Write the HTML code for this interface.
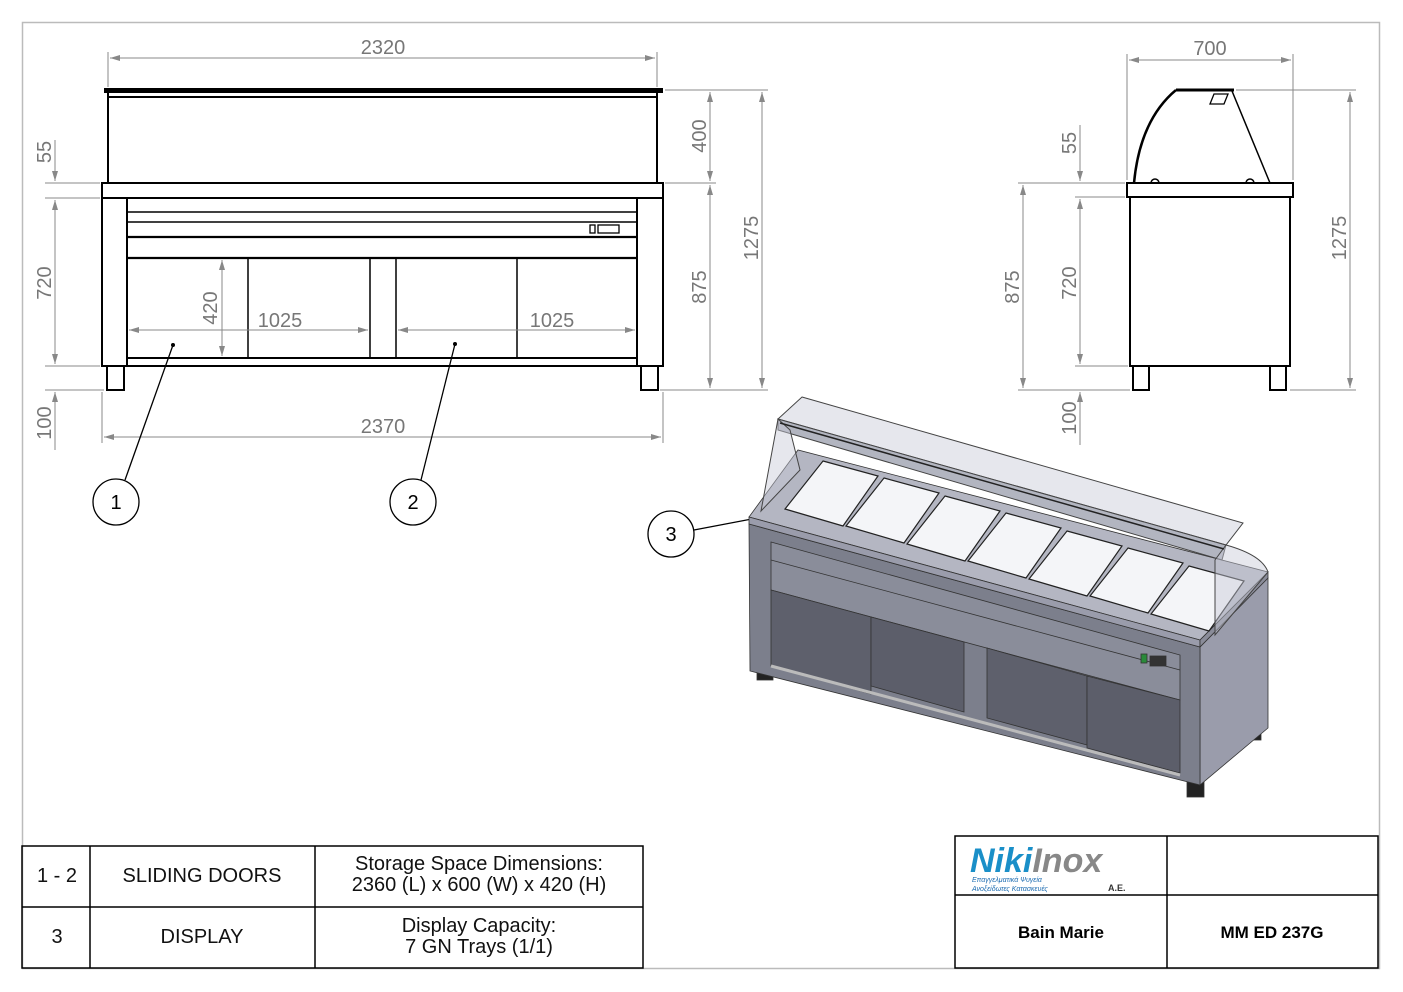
<!DOCTYPE html>
<html><head><meta charset="utf-8"><style>
html,body{margin:0;padding:0;background:#fff;}
svg{display:block;}
text{font-family:"Liberation Sans",sans-serif;}
</style></head><body>
<svg width="1403" height="992" viewBox="0 0 1403 992" xmlns="http://www.w3.org/2000/svg">
<defs>
<marker id="a" viewBox="0 0 10 6" refX="10" refY="3" markerWidth="10" markerHeight="6" orient="auto-start-reverse"><path d="M0,0 L10,3 L0,6 z" fill="#888"/></marker>
</defs>
<rect x="22.5" y="22.5" width="1357" height="946" fill="none" stroke="#bbb" stroke-width="1.5"/>

<!-- FRONT VIEW -->
<g stroke="#000" fill="none" stroke-width="2">
<rect x="105" y="89" width="557" height="3" fill="#000"/>
<line x1="108" y1="97" x2="657" y2="97"/>
<line x1="108" y1="92" x2="108" y2="183"/>
<line x1="657" y1="92" x2="657" y2="183"/>
<rect x="102" y="183" width="561" height="15"/>
<rect x="102" y="198" width="25" height="168"/>
<rect x="637" y="198" width="26" height="168"/>
<line x1="127" y1="212" x2="637" y2="212" stroke-width="1.5"/>
<line x1="127" y1="222" x2="637" y2="222" stroke-width="1.5"/>
<line x1="127" y1="237" x2="637" y2="237" stroke-width="2.2"/>
<line x1="127" y1="258" x2="637" y2="258" stroke-width="2.2"/>
<rect x="127" y="358" width="510" height="8"/>
<line x1="248" y1="258" x2="248" y2="358" stroke-width="1.5"/>
<line x1="370" y1="258" x2="370" y2="358" stroke-width="1.5"/>
<line x1="396" y1="258" x2="396" y2="358" stroke-width="1.5"/>
<line x1="517" y1="258" x2="517" y2="358" stroke-width="1.5"/>
<rect x="590" y="225" width="5" height="8" stroke-width="1.3"/>
<rect x="598" y="225" width="21" height="8" stroke-width="1.3"/>
<rect x="107" y="366" width="17" height="24"/>
<rect x="641" y="366" width="17" height="24"/>
</g>
<g stroke="#888" stroke-width="1" fill="none">
<line x1="108" y1="52" x2="108" y2="87"/><line x1="657" y1="52" x2="657" y2="87"/>
<line x1="110" y1="58" x2="655" y2="58" marker-start="url(#a)" marker-end="url(#a)"/>
<line x1="102" y1="392" x2="102" y2="443"/><line x1="663" y1="392" x2="663" y2="443"/>
<line x1="104" y1="437" x2="661" y2="437" marker-start="url(#a)" marker-end="url(#a)"/>
<line x1="665" y1="90" x2="768" y2="90"/><line x1="665" y1="183" x2="716" y2="183"/><line x1="660" y1="390" x2="768" y2="390"/>
<line x1="710" y1="92" x2="710" y2="181" marker-start="url(#a)" marker-end="url(#a)"/>
<line x1="710" y1="185" x2="710" y2="388" marker-start="url(#a)" marker-end="url(#a)"/>
<line x1="762" y1="92" x2="762" y2="388" marker-start="url(#a)" marker-end="url(#a)"/>
<line x1="45" y1="183" x2="100" y2="183"/><line x1="45" y1="198" x2="100" y2="198"/><line x1="45" y1="366" x2="100" y2="366"/><line x1="45" y1="390" x2="104" y2="390"/>
<line x1="55" y1="140" x2="55" y2="181" marker-end="url(#a)"/>
<line x1="55" y1="200" x2="55" y2="364" marker-start="url(#a)" marker-end="url(#a)"/>
<line x1="55" y1="392" x2="55" y2="450" marker-start="url(#a)"/>
<line x1="222" y1="260" x2="222" y2="356" marker-start="url(#a)" marker-end="url(#a)"/>
<line x1="129" y1="330" x2="368" y2="330" marker-start="url(#a)" marker-end="url(#a)"/>
<line x1="398" y1="330" x2="635" y2="330" marker-start="url(#a)" marker-end="url(#a)"/>
</g>
<g fill="#777" font-size="20">
<text x="383" y="54" text-anchor="middle">2320</text>
<text x="383" y="433" text-anchor="middle">2370</text>
<text x="280" y="327" text-anchor="middle">1025</text>
<text x="552" y="327" text-anchor="middle">1025</text>
<text transform="translate(217,308) rotate(-90)" text-anchor="middle">420</text>
<text transform="translate(706,136) rotate(-90)" text-anchor="middle">400</text>
<text transform="translate(706,287) rotate(-90)" text-anchor="middle">875</text>
<text transform="translate(758,238) rotate(-90)" text-anchor="middle">1275</text>
<text transform="translate(51,152) rotate(-90)" text-anchor="middle">55</text>
<text transform="translate(51,283) rotate(-90)" text-anchor="middle">720</text>
<text transform="translate(51,423) rotate(-90)" text-anchor="middle">100</text>
</g>
<g stroke="#000" stroke-width="1.3" fill="none">
<circle cx="116" cy="502" r="23"/><circle cx="413" cy="502" r="23"/><circle cx="671" cy="534" r="23"/>
<line x1="125" y1="480" x2="173" y2="345"/><line x1="421" y1="480" x2="455" y2="344"/><line x1="694" y1="530" x2="836" y2="503"/>
</g>
<circle cx="173" cy="345" r="2"/><circle cx="455" cy="344" r="2"/>
<g font-size="20" text-anchor="middle"><text x="116" y="509">1</text><text x="413" y="509">2</text><text x="671" y="541">3</text></g>

<!-- SIDE VIEW -->
<g stroke="#000" stroke-width="2" fill="none">
<rect x="1127" y="183" width="166" height="14"/>
<rect x="1130" y="197" width="160" height="169"/>
<rect x="1133" y="366" width="16" height="24"/>
<rect x="1270" y="366" width="16" height="24"/>
<path d="M1134,183 Q1140,120 1176,90" stroke-width="2.5"/>
<line x1="1176" y1="90" x2="1234" y2="90" stroke-width="3"/>
<line x1="1232" y1="91" x2="1270" y2="183" stroke-width="1.5"/>
<path d="M1214,94 L1228,94 L1224,104 L1210,104 z" stroke-width="1.3"/>
<path d="M1151,183 a4,4 0 0 1 8,0" stroke-width="1.5"/><path d="M1246,183 a4,4 0 0 1 8,0" stroke-width="1.5"/>
</g>
<g stroke="#888" stroke-width="1" fill="none">
<line x1="1127" y1="54" x2="1127" y2="180"/><line x1="1293" y1="54" x2="1293" y2="180"/>
<line x1="1129" y1="60" x2="1291" y2="60" marker-start="url(#a)" marker-end="url(#a)"/>
<line x1="1236" y1="90" x2="1356" y2="90"/><line x1="1290" y1="390" x2="1356" y2="390"/>
<line x1="1350" y1="92" x2="1350" y2="388" marker-start="url(#a)" marker-end="url(#a)"/>
<line x1="1018" y1="183" x2="1125" y2="183"/><line x1="1075" y1="197" x2="1125" y2="197"/><line x1="1075" y1="366" x2="1128" y2="366"/><line x1="1018" y1="390" x2="1130" y2="390"/>
<line x1="1023" y1="185" x2="1023" y2="388" marker-start="url(#a)" marker-end="url(#a)"/>
<line x1="1080" y1="125" x2="1080" y2="181" marker-end="url(#a)"/>
<line x1="1080" y1="199" x2="1080" y2="364" marker-start="url(#a)" marker-end="url(#a)"/>
<line x1="1080" y1="392" x2="1080" y2="445" marker-start="url(#a)"/>
</g>
<g fill="#777" font-size="20">
<text x="1210" y="55" text-anchor="middle">700</text>
<text transform="translate(1346,238) rotate(-90)" text-anchor="middle">1275</text>
<text transform="translate(1019,287) rotate(-90)" text-anchor="middle">875</text>
<text transform="translate(1076,143) rotate(-90)" text-anchor="middle">55</text>
<text transform="translate(1076,283) rotate(-90)" text-anchor="middle">720</text>
<text transform="translate(1076,418) rotate(-90)" text-anchor="middle">100</text>
</g>

<!-- 3D VIEW -->
<g stroke="#333" stroke-width="0.8">
<rect x="757" y="660" width="16" height="20" fill="#222"/>
<rect x="1187" y="780" width="17" height="17" fill="#222"/>
<rect x="1249" y="725" width="12" height="15" fill="#222"/>
<polygon points="1200,647 1268,578 1268,728 1200,785" fill="#9a9cab"/>
<polygon points="749,524 1200,647 1200,785 750,671" fill="#7c7f8c"/>
<polygon points="771,542 1180,655 1180,700 771,590" fill="#8a8d9a"/>
<line x1="771" y1="560" x2="1180" y2="670"/>
<polygon points="771,590 871,617 871,694 771,666" fill="#5e606c"/>
<polygon points="871,617 964,642 964,712 871,686" fill="#5c5e6a"/>
<polygon points="987,648 1087,676 1087,745 987,718" fill="#5e606c"/>
<polygon points="1087,676 1180,700 1180,773 1087,748" fill="#5c5e6a"/>
<line x1="771" y1="666" x2="1180" y2="775" stroke="#bbb" stroke-width="3"/>
<rect x="1141" y="654" width="6" height="9" fill="#2a8a3a"/>
<rect x="1150" y="656" width="16" height="10" fill="#333"/>
<polygon points="749,517 1200,640 1268,572 798,450" fill="#b4b6c2"/>
<polygon points="749,517 1200,640 1200,647 749,524" fill="#9a9cab"/>
<polygon points="1200,640 1268,572 1268,578 1200,647" fill="#8a8c99"/>
</g>
<g stroke="#222" stroke-width="1.2" fill="#f4f5f8">
<polygon points="823,461 878,476 843,526 785,509"/>
<polygon points="884,478 939,493 904,543 846,526"/>
<polygon points="945,496 1000,511 965,561 907,544"/>
<polygon points="1006,513 1061,528 1026,578 968,561"/>
<polygon points="1067,531 1122,546 1087,596 1029,579"/>
<polygon points="1128,548 1183,563 1148,613 1090,596"/>
<polygon points="1189,566 1244,581 1209,631 1151,614"/>
</g>
<g stroke="#444" stroke-width="1" fill="#c8cad6" fill-opacity="0.45">
<polygon points="802,397 1243,523 1226,545 778,419"/>
<polygon points="778,419 1226,545 1222,560 778,430" fill="#9fa2b0" fill-opacity="0.8"/>
<path d="M778,419 L761,511 L800,470 L790,430 z"/>
<path d="M1226,545 Q1262,555 1268,572 L1215,635 L1215,560 z"/>
</g>
<line x1="780" y1="423" x2="1224" y2="549" stroke="#222" stroke-width="1.5"/>

<!-- TABLES -->
<g stroke="#000" stroke-width="1.5" fill="none">
<rect x="22" y="846" width="621" height="122"/>
<line x1="22" y1="907" x2="643" y2="907"/>
<line x1="90" y1="846" x2="90" y2="968"/><line x1="315" y1="846" x2="315" y2="968"/>
<rect x="955" y="836" width="423" height="132"/>
<line x1="955" y1="895" x2="1378" y2="895"/>
<line x1="1167" y1="836" x2="1167" y2="968"/>
</g>
<g font-size="20" text-anchor="middle" fill="#111">
<text x="57" y="882">1 - 2</text><text x="202" y="882">SLIDING DOORS</text>
<text x="479" y="870">Storage Space Dimensions:</text><text x="479" y="891">2360 (L) x 600 (W) x 420 (H)</text>
<text x="57" y="943">3</text><text x="202" y="943">DISPLAY</text>
<text x="479" y="932">Display Capacity:</text><text x="479" y="953">7 GN Trays (1/1)</text>
</g>
<g font-weight="bold" font-size="17" text-anchor="middle"><text x="1061" y="938">Bain Marie</text><text x="1272" y="938">MM ED 237G</text></g>
<text x="970" y="872" font-size="34" font-weight="bold" font-style="italic" fill="#1a8fc8">Niki<tspan fill="#888">Inox</tspan></text>
<text x="972" y="882" font-size="7" fill="#1a6ab0" font-style="italic">Επαγγελματικά Ψυγεία</text>
<text x="972" y="891" font-size="7" fill="#1a6ab0" font-style="italic">Ανοξείδωτες Κατασκευές</text>
<text x="1108" y="891" font-size="9" font-weight="bold" fill="#333">A.E.</text>
</svg>
</body></html>
